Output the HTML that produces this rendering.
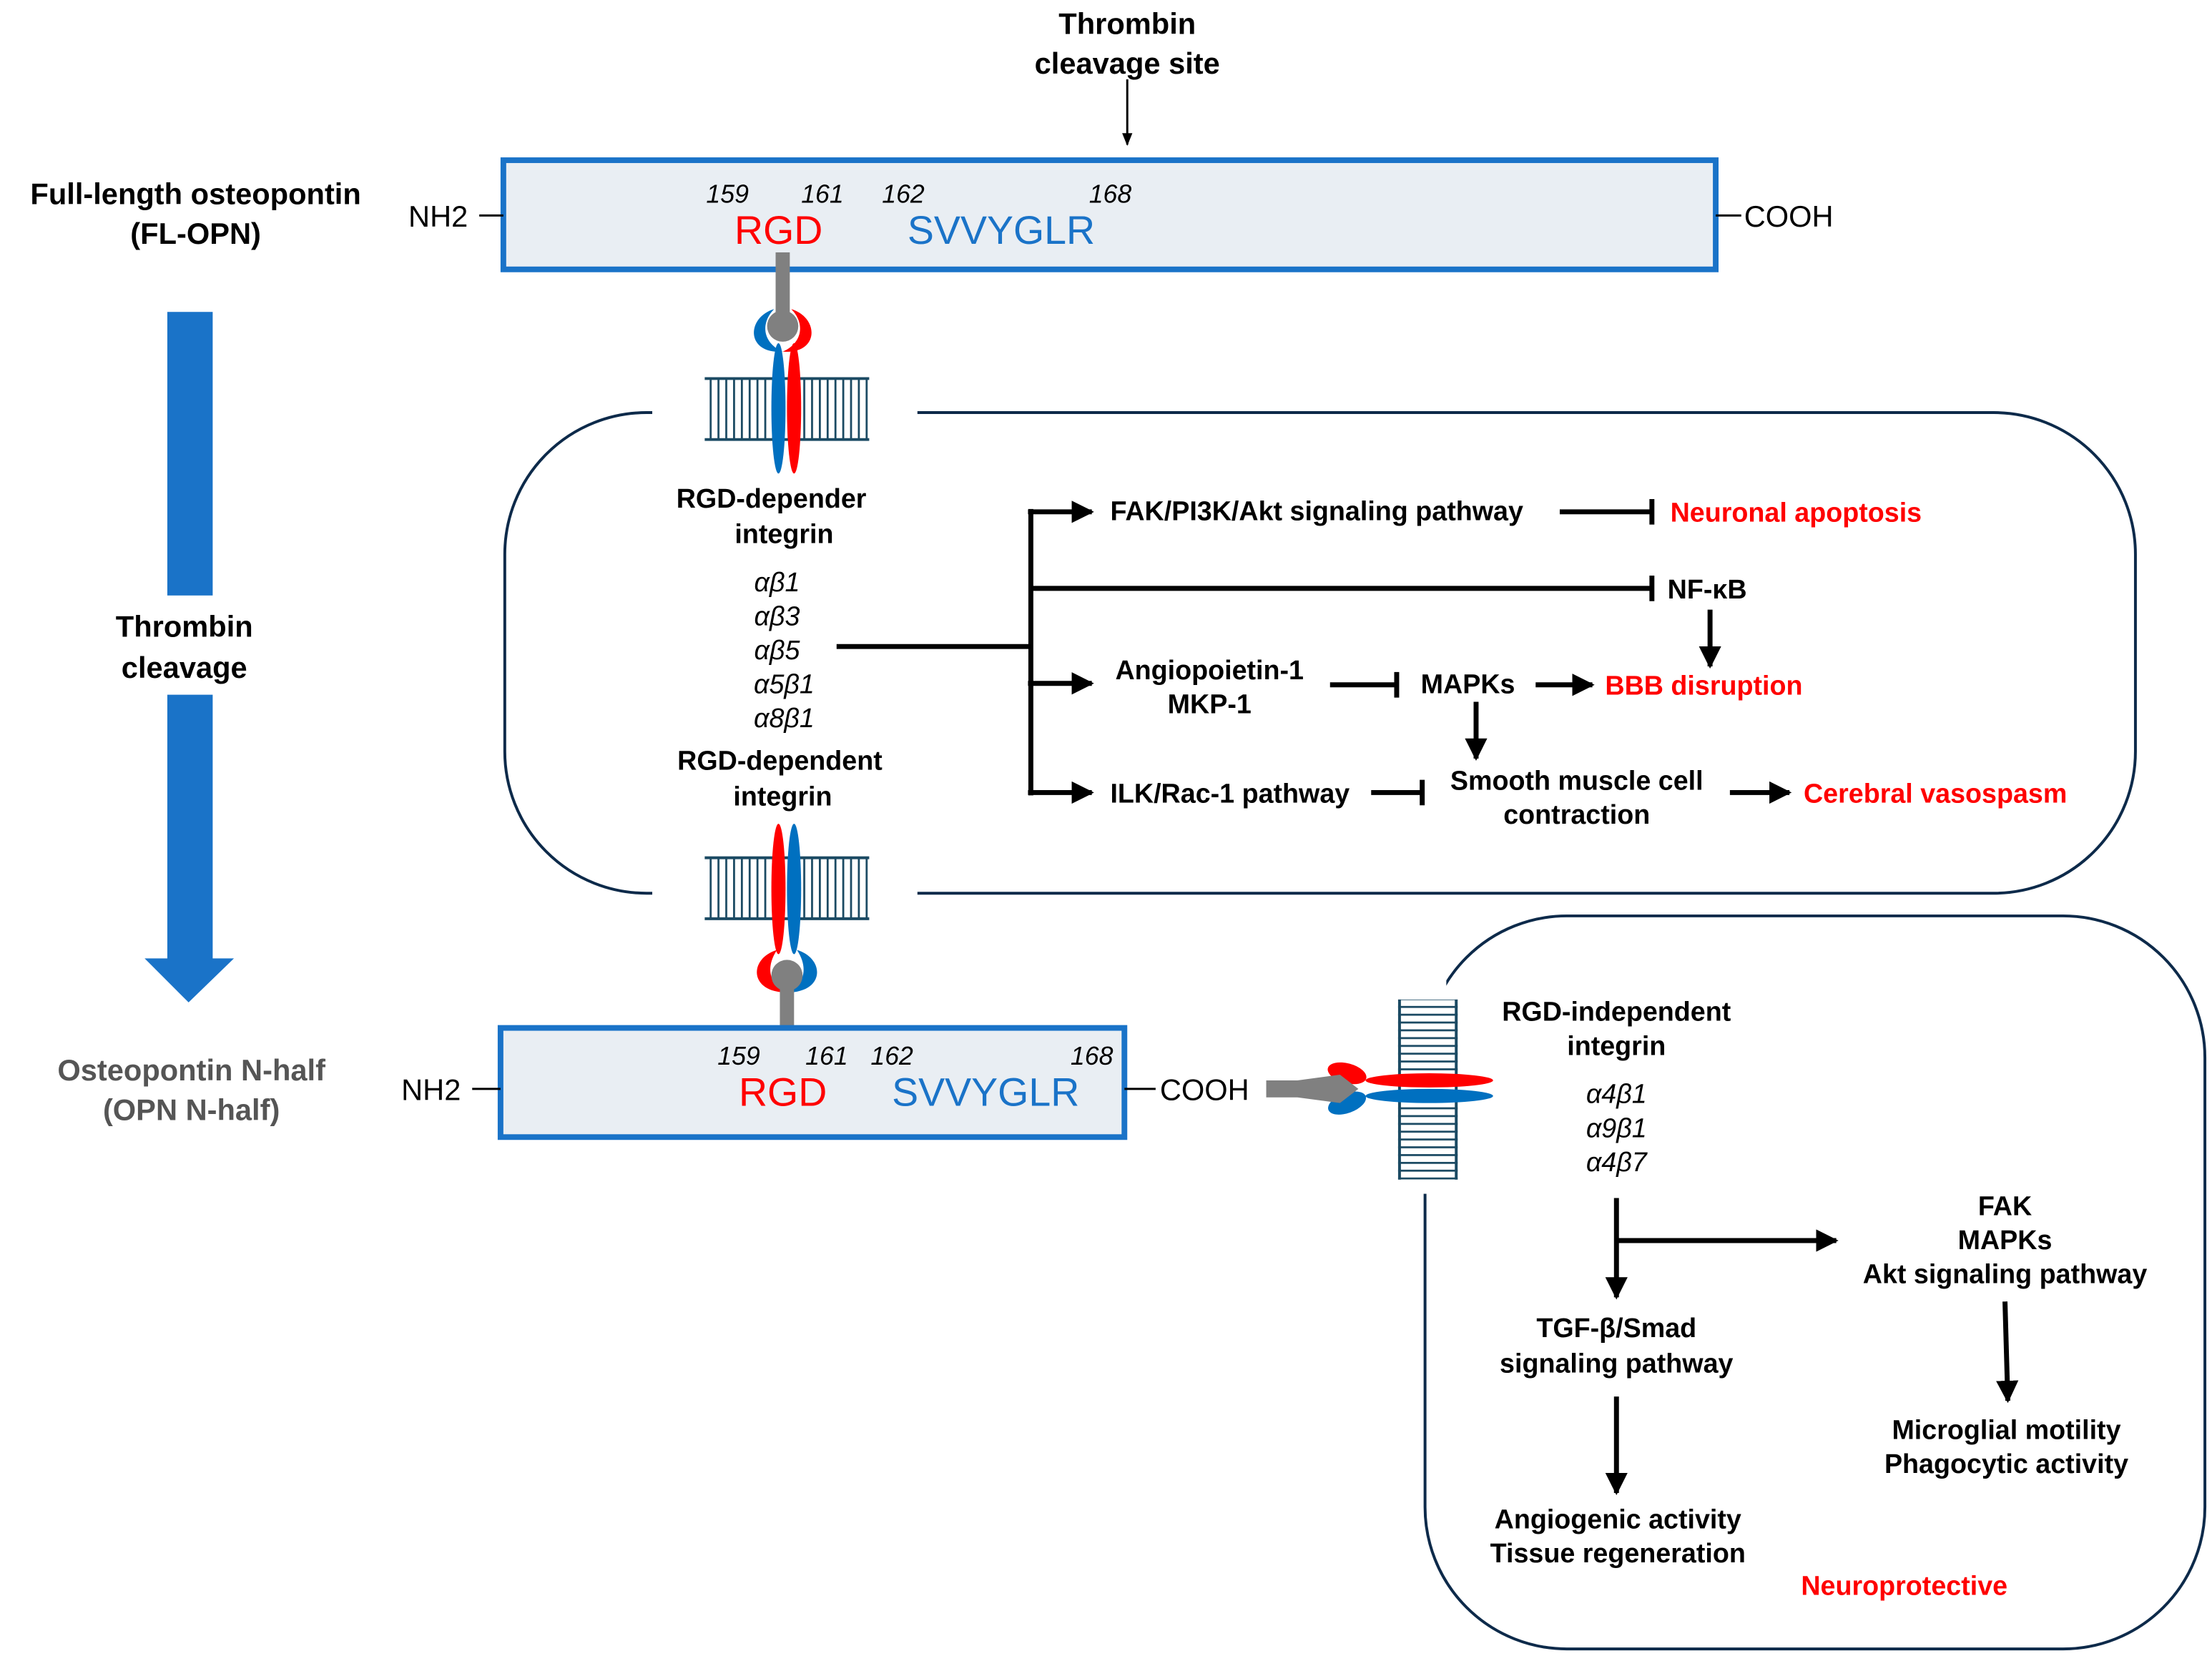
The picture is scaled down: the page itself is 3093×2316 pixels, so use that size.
<!DOCTYPE html>
<html><head><meta charset="utf-8"><style>html,body{margin:0;padding:0;background:#fff}svg{display:block}text{font-family:"Liberation Sans",Arial,sans-serif}</style></head><body>
<svg width="3093" height="2316" viewBox="0 0 1560 1168" preserveAspectRatio="none" xmlns="http://www.w3.org/2000/svg">
<defs>
<marker id="a" viewBox="0 0 10 10" refX="9" refY="5" markerWidth="4.5" markerHeight="4.5" orient="auto" markerUnits="strokeWidth"><path d="M0,0L10,5L0,10z" fill="#000"/></marker>
<marker id="s" viewBox="0 0 10 10" refX="9" refY="5" markerWidth="6" markerHeight="6" orient="auto"><path d="M0,1L10,5L0,9z" fill="#000"/></marker>
<pattern id="vl" width="5.5" height="10" patternUnits="userSpaceOnUse"><rect x="0" y="0" width="1.4" height="10" fill="#1b4a63"/></pattern>
<pattern id="hl" width="10" height="5.5" patternUnits="userSpaceOnUse"><rect x="0" y="0" width="10" height="1.4" fill="#1b4a63"/></pattern>
</defs>
<g font-weight="bold" font-size="21" text-anchor="middle" fill="#000">
<text x="795" y="24">Thrombin</text><text x="795" y="52">cleavage site</text>
<text x="138" y="144">Full-length osteopontin</text><text x="138" y="172">(FL-OPN)</text>
<text x="130" y="449">Thrombin</text><text x="130" y="478">cleavage</text>
<text x="135" y="762" fill="#555">Osteopontin N-half</text><text x="135" y="790" fill="#555">(OPN N-half)</text>
</g>
<line x1="795" y1="56" x2="795" y2="102" stroke="#000" stroke-width="1.5" marker-end="url(#s)"/>
<rect x="118" y="220" width="32" height="200" fill="#1a73c8"/>
<rect x="118" y="490" width="32" height="188" fill="#1a73c8"/>
<path d="M102,676L165,676L133,707z" fill="#1a73c8"/>
<rect x="355" y="113" width="855" height="77" fill="#e9eef3" stroke="#1a73c8" stroke-width="4"/>
<line x1="338" y1="152" x2="355" y2="152" stroke="#000" stroke-width="1.5"/>
<line x1="1210" y1="152" x2="1228" y2="152" stroke="#000" stroke-width="1.5"/>
<!-- upper box -->
<path d="M460,291H456A100,100 0 0 0 356,391V530A100,100 0 0 0 456,630H460M647,630H1406A100,100 0 0 0 1506,530V391A100,100 0 0 0 1406,291H647" fill="none" stroke="#0d2a4a" stroke-width="2"/>
<!-- top integrin -->
<rect x="497" y="267" width="116" height="43" fill="url(#vl)"/>
<line x1="497" y1="267" x2="613" y2="267" stroke="#1b4a63" stroke-width="2"/><line x1="497" y1="310" x2="613" y2="310" stroke="#1b4a63" stroke-width="2"/>
<ellipse cx="549" cy="288" rx="5" ry="46" fill="#0070c0"/><ellipse cx="560" cy="288" rx="5" ry="46" fill="#ff0000"/>
<path d="M546,218C526,224 526,250 552,248C538,242 536,228 546,218z" fill="#0070c0"/>
<path d="M558,218C578,224 578,250 552,248C566,242 568,228 558,218z" fill="#ff0000"/>
<rect x="547" y="178" width="10" height="52" fill="#808080"/><circle cx="552" cy="230" r="11" fill="#808080"/>
<!-- bottom integrin -->
<rect x="497" y="605" width="116" height="43" fill="url(#vl)"/>
<line x1="497" y1="605" x2="613" y2="605" stroke="#1b4a63" stroke-width="2"/><line x1="497" y1="648" x2="613" y2="648" stroke="#1b4a63" stroke-width="2"/>
<ellipse cx="549" cy="627" rx="5" ry="46" fill="#ff0000"/><ellipse cx="560" cy="627" rx="5" ry="46" fill="#0070c0"/>
<path d="M548,670C528,676 528,700 555,700C542,694 540,682 548,670z" fill="#ff0000"/>
<path d="M562,670C582,676 582,700 555,700C568,694 570,682 562,670z" fill="#0070c0"/>
<rect x="550" y="688" width="10" height="38" fill="#808080"/><circle cx="555" cy="688" r="11" fill="#808080"/>
<!-- N-half box -->
<rect x="353" y="725" width="440" height="77" fill="#e9eef3" stroke="#1a73c8" stroke-width="4"/>
<line x1="333" y1="768" x2="353" y2="768" stroke="#000" stroke-width="1.5"/>
<line x1="793" y1="768" x2="815" y2="768" stroke="#000" stroke-width="1.5"/>
<g font-size="21"><text x="288" y="160">NH2</text><text x="1230" y="160">COOH</text>
<text x="283" y="776">NH2</text><text x="818" y="776">COOH</text></g>
<g font-size="18" font-style="italic"><text x="498" y="143">159</text><text x="565" y="143">161</text><text x="622" y="143">162</text><text x="768" y="143">168</text>
<text x="506" y="751">159</text><text x="568" y="751">161</text><text x="614" y="751">162</text><text x="755" y="751">168</text></g>
<g font-size="28"><text x="518" y="172" fill="#ff0000">RGD</text><text x="640" y="172" fill="#1a73c8">SVVYGLR</text>
<text x="521" y="780" fill="#ff0000">RGD</text><text x="629" y="780" fill="#1a73c8">SVVYGLR</text></g>
<!-- upper text -->
<g font-weight="bold" font-size="19" text-anchor="middle">
<text x="544" y="358">RGD-depender</text><text x="553" y="383">integrin</text>
<text x="550" y="543">RGD-dependent</text><text x="552" y="568">integrin</text>
<text x="853" y="479">Angiopoietin-1</text><text x="853" y="503">MKP-1</text>
<text x="1112" y="557">Smooth muscle cell</text><text x="1112" y="581">contraction</text>
</g>
<g font-style="italic" font-size="19" text-anchor="middle"><text x="548" y="417">αβ1</text><text x="548" y="441">αβ3</text><text x="548" y="465">αβ5</text><text x="553" y="489">α5β1</text><text x="553" y="513">α8β1</text>
<text x="1140" y="778">α4β1</text><text x="1140" y="802">α9β1</text><text x="1140" y="826">α4β7</text></g>
<g font-weight="bold" font-size="19">
<text x="783" y="367">FAK/PI3K/Akt signaling pathway</text>
<text x="1176" y="422">NF-κB</text>
<text x="1002" y="489">MAPKs</text>
<text x="783" y="566">ILK/Rac-1 pathway</text>
<g fill="#ff0000"><text x="1178" y="368">Neuronal apoptosis</text><text x="1132" y="490">BBB disruption</text><text x="1272" y="566">Cerebral vasospasm</text></g>
</g>
<g stroke="#000" stroke-width="3.5" fill="none">
<line x1="590" y1="456" x2="727" y2="456"/>
<line x1="727" y1="359" x2="727" y2="561"/>
<line x1="725" y1="361" x2="770" y2="361" marker-end="url(#a)"/>
<line x1="725" y1="482" x2="770" y2="482" marker-end="url(#a)"/>
<line x1="725" y1="559" x2="770" y2="559" marker-end="url(#a)"/>
<line x1="727" y1="415" x2="1165" y2="415"/><line x1="1165" y1="406" x2="1165" y2="424"/>
<line x1="1100" y1="361" x2="1165" y2="361"/><line x1="1165" y1="352" x2="1165" y2="370"/>
<line x1="1206" y1="430" x2="1206" y2="470" marker-end="url(#a)"/>
<line x1="938" y1="483" x2="985" y2="483"/><line x1="985" y1="474" x2="985" y2="492"/>
<line x1="1083" y1="483" x2="1123" y2="483" marker-end="url(#a)"/>
<line x1="1041" y1="495" x2="1041" y2="535" marker-end="url(#a)"/>
<line x1="967" y1="559" x2="1003" y2="559"/><line x1="1003" y1="550" x2="1003" y2="568"/>
<line x1="1220" y1="559" x2="1262" y2="559" marker-end="url(#a)"/>
</g>
<!-- lower box -->
<rect x="1005" y="646" width="550" height="517" rx="100" fill="none" stroke="#0d2a4a" stroke-width="2"/>
<rect x="990" y="684" width="30" height="158" fill="#fff"/>
<!-- side integrin -->
<rect x="986" y="705" width="42" height="127" fill="url(#hl)"/>
<line x1="987" y1="705" x2="987" y2="832" stroke="#1b4a63" stroke-width="2"/><line x1="1027" y1="705" x2="1027" y2="832" stroke="#1b4a63" stroke-width="2"/>
<ellipse cx="1008" cy="762" rx="45" ry="5" fill="#ff0000"/><ellipse cx="1008" cy="773" rx="45" ry="5" fill="#0070c0"/>
<ellipse cx="950" cy="757" rx="14" ry="7" fill="#ff0000" transform="rotate(15 950 757)"/>
<ellipse cx="950" cy="778" rx="14" ry="7" fill="#0070c0" transform="rotate(-20 950 778)"/>
<path d="M893,762H915L945,758L958,768L945,778L915,774H893z" fill="#808080"/>
<g font-weight="bold" font-size="19" text-anchor="middle">
<text x="1140" y="720">RGD-independent</text><text x="1140" y="744">integrin</text>
<text x="1414" y="857">FAK</text><text x="1414" y="881">MAPKs</text><text x="1414" y="905">Akt signaling pathway</text>
<text x="1140" y="943">TGF-β/Smad</text><text x="1140" y="968">signaling pathway</text>
<text x="1415" y="1015">Microglial motility</text><text x="1415" y="1039">Phagocytic activity</text>
<text x="1141" y="1078">Angiogenic activity</text><text x="1141" y="1102">Tissue regeneration</text>
<text x="1343" y="1125" fill="#ff0000">Neuroprotective</text>
</g>
<g stroke="#000" stroke-width="3.5" fill="none">
<line x1="1140" y1="845" x2="1140" y2="915" marker-end="url(#a)"/>
<line x1="1140" y1="875" x2="1295" y2="875" marker-end="url(#a)"/>
<line x1="1414" y1="918" x2="1416" y2="988" marker-end="url(#a)"/>
<line x1="1140" y1="985" x2="1140" y2="1053" marker-end="url(#a)"/>
</g>
</svg>
</body></html>
